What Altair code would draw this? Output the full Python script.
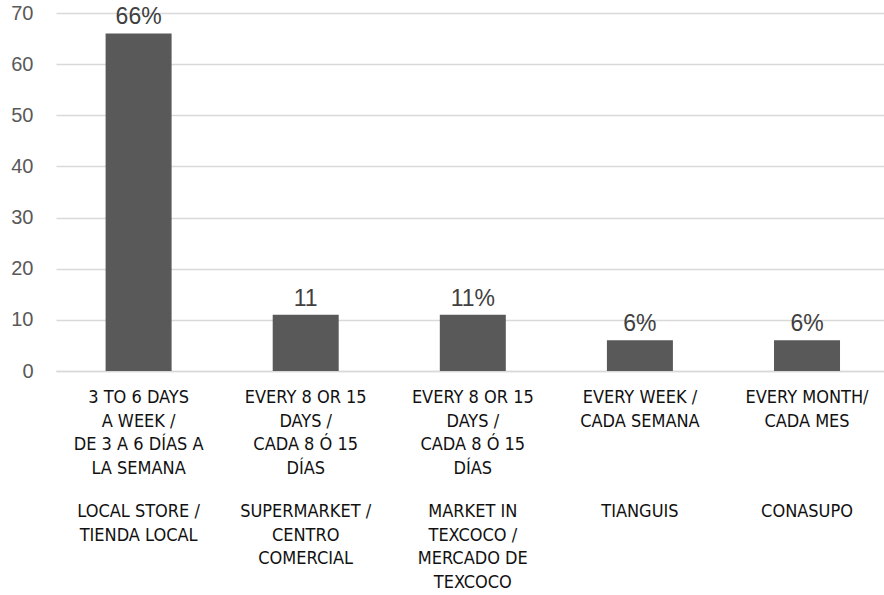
import altair as alt
import pandas as pd

places = ["LOCAL STORE /\nTIENDA LOCAL",
          "SUPERMARKET /\nCENTRO\nCOMERCIAL",
          "MARKET IN\nTEXCOCO /\nMERCADO DE\nTEXCOCO",
          "TIANGUIS",
          "CONASUPO"]
frequencies = ["3 TO 6 DAYS\nA WEEK /\nDE 3 A 6 DÍAS A\nLA SEMANA",
               "EVERY 8 OR 15\nDAYS /\nCADA 8 Ó 15\nDÍAS",
               "EVERY 8 OR 15\nDAYS /\nCADA 8 Ó 15\nDÍAS",
               "EVERY WEEK /\nCADA SEMANA",
               "EVERY MONTH/\nCADA MES"]
values = [66, 11, 11, 6, 6]
value_labels = ["66%", "11", "11%", "6%", "6%"]
keys = ["c1", "c2", "c3", "c4", "c5"]

df = pd.DataFrame({"key": keys, "place": places, "freq": frequencies,
                   "value": values, "label": value_labels})

NARROW = "DejaVu Sans Condensed, Liberation Sans Narrow, sans-serif"
SANS = "Liberation Sans, Arial, sans-serif"

xscale = alt.Scale(paddingInner=0.605, paddingOuter=0.28, align=0.53)

x = alt.X("key:N", sort=keys, title=None, scale=xscale,
          axis=alt.Axis(labels=False, ticks=False, domain=True,
                        domainColor="#d9d9d9", domainWidth=1.5))

bars = alt.Chart(df).mark_bar(color="#595959").encode(
    x=x,
    y=alt.Y("value:Q", title=None,
            scale=alt.Scale(domain=[0, 70], nice=False),
            axis=alt.Axis(values=list(range(0, 71, 10)), ticks=False,
                          domain=False, grid=True, gridColor="#d9d9d9",
                          gridWidth=1.3, labelFont=SANS, labelFontSize=20,
                          labelColor="#595959", labelPadding=23)),
)

vlabels = alt.Chart(df).mark_text(font=SANS, fontSize=23, color="#404040",
                                  baseline="alphabetic", dy=-9).encode(
    x=alt.X("key:N", sort=keys),
    y="value:Q",
    text="label:N",
)

freq_text = alt.Chart(df).mark_text(font=NARROW, fontSize=18, color="#111111",
                                    baseline="alphabetic", lineBreak="\n",
                                    lineHeight=23.5).encode(
    x=alt.X("key:N", sort=keys),
    y=alt.value(390),
    text="freq:N",
)

place_text = alt.Chart(df).mark_text(font=NARROW, fontSize=18, color="#111111",
                                     baseline="alphabetic", lineBreak="\n",
                                     lineHeight=23.5).encode(
    x=alt.X("key:N", sort=keys),
    y=alt.value(504),
    text="place:N",
)

chart = alt.layer(bars, vlabels, freq_text, place_text).properties(
    width=828, height=358,
    autosize=alt.AutoSizeParams(type="none"),
    padding={"left": 56, "top": 13, "right": 0, "bottom": 224},
    background="white",
).configure_view(stroke=None)

chart.save("out.html", embed_options={"renderer": "svg", "actions": False})
